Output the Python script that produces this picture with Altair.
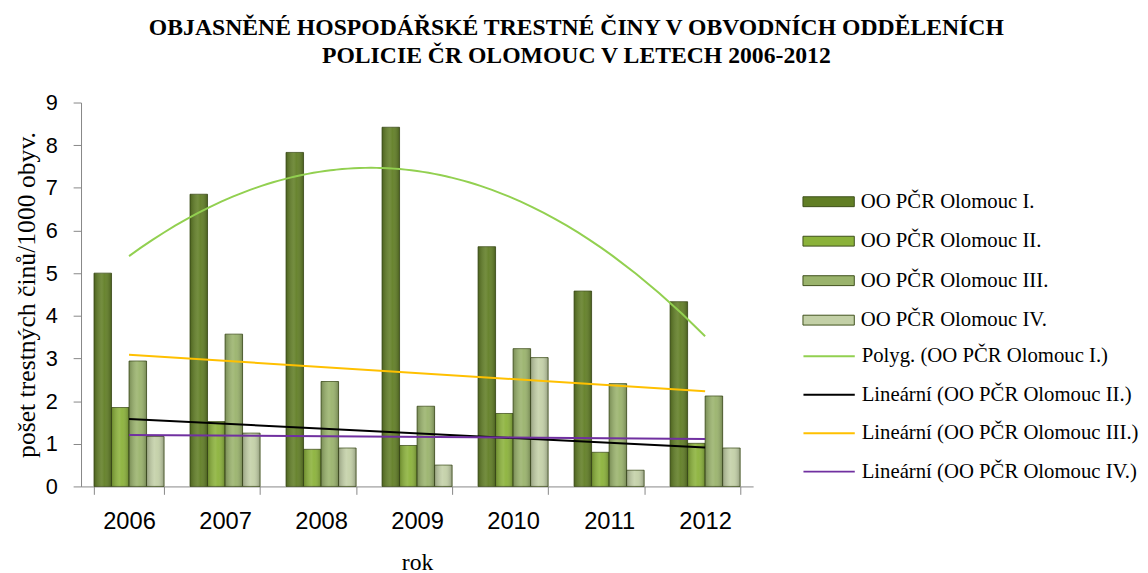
import altair as alt
import pandas as pd

years = [2006, 2007, 2008, 2009, 2010, 2011, 2012]
series_names = ["OO PČR Olomouc I.", "OO PČR Olomouc II.", "OO PČR Olomouc III.", "OO PČR Olomouc IV."]
vals_I = [5.00, 6.85, 7.83, 8.42, 5.62, 4.58, 4.33]
vals_II = [1.85, 1.52, 0.87, 0.96, 1.71, 0.80, 1.01]
vals_III = [2.94, 3.57, 2.46, 1.88, 3.23, 2.41, 2.12]
vals_IV = [1.17, 1.25, 0.90, 0.50, 3.02, 0.38, 0.90]
trend_names = ["Polyg. (OO PČR Olomouc I.)", "Lineární (OO PČR Olomouc II.)",
               "Lineární (OO PČR Olomouc III.)", "Lineární (OO PČR Olomouc IV.)"]
bar_colors = ["#617E25", "#8BB23A", "#9AB36C", "#C3D0A7"]
trend_colors = ["#92D050", "#000000", "#FFC000", "#7030A0"]
title_lines = ["OBJASNĚNÉ HOSPODÁŘSKÉ TRESTNÉ ČINY V OBVODNÍCH ODDĚLENÍCH",
               "POLICIE ČR OLOMOUC V LETECH 2006-2012"]
y_title = "pošet trestných činů/1000 obyv."
x_title = "rok"

rows = []
for name, vals in zip(series_names, [vals_I, vals_II, vals_III, vals_IV]):
    for yr, v in zip(years, vals):
        rows.append({"year": yr, "series": name, "value": v})
df = pd.DataFrame(rows)

SERIF = "Liberation Serif"
SANS = "Liberation Sans"
AXIS_COLOR = "#868686"

y_enc = alt.Y("value:Q", scale=alt.Scale(domain=[0, 9], nice=False),
              axis=alt.Axis(values=list(range(10)), title=y_title, grid=False,
                            domainColor=AXIS_COLOR, tickColor=AXIS_COLOR, tickSize=8,
                            labelFont=SANS, labelFontSize=22, labelColor="#000000",
                            labelPadding=16, titleFont=SERIF, titleFontSize=26,
                            titleFontWeight="normal", titleColor="#000000", titlePadding=6))

x_band = alt.X("year:O", scale=alt.Scale(paddingInner=0.27, paddingOuter=0.135),
               axis=alt.Axis(title=x_title, labelAngle=0, tickBand="extent", tickSize=8,
                             domainColor=AXIS_COLOR, tickColor=AXIS_COLOR,
                             labelFont=SANS, labelFontSize=24, labelColor="#000000",
                             labelPadding=16, titleFont=SERIF, titleFontSize=24,
                             titleFontWeight="normal", titleColor="#000000", titlePadding=17))
x_off = alt.XOffset("series:N", sort=series_names, scale=alt.Scale(paddingInner=0, paddingOuter=0))

fill_legend = alt.Legend(title=None, orient="none", legendX=721, legendY=90,
                         symbolType="M0,-0.5H5.2V0.5H0Z", symbolSize=400,
                         symbolStrokeColor="#3E4F1A", symbolStrokeWidth=1,
                         labelOffset=48, rowPadding=18, padding=0)
stroke_legend = alt.Legend(title=None, orient="none", legendX=721, legendY=246,
                           symbolType="M0,0H5.2", symbolSize=400, symbolStrokeWidth=2,
                           labelOffset=48, rowPadding=18, padding=0)

bars = alt.Chart(df).mark_bar(stroke="#3E4F1A", strokeWidth=0.8).encode(
    x=x_band, xOffset=x_off, y=y_enc,
    fill=alt.Fill("series:N", sort=series_names,
                  scale=alt.Scale(domain=series_names, range=bar_colors),
                  legend=fill_legend),
)

shade = alt.Chart(df).mark_bar(
    color=alt.LinearGradient(
        gradient="linear", x1=0, x2=1, y1=0, y2=0,
        stops=[alt.GradientStop(color="rgba(0,0,0,0.22)", offset=0),
               alt.GradientStop(color="rgba(255,255,255,0.12)", offset=0.45),
               alt.GradientStop(color="rgba(255,255,255,0.05)", offset=0.6),
               alt.GradientStop(color="rgba(0,0,0,0.25)", offset=1)])
).encode(x=x_band, xOffset=x_off, y="value:Q")

bar_layer = alt.layer(bars, shade)

x_line = alt.X("year:Q", scale=alt.Scale(domain=[2005.5, 2012.5], nice=False, zero=False), axis=None)
stroke_enc = alt.Stroke("trend:N", scale=alt.Scale(domain=trend_names, range=trend_colors),
                        sort=trend_names, legend=stroke_legend)

poly = alt.Chart(df).transform_filter(
    alt.datum.series == series_names[0]
).transform_regression(
    "year", "value", method="poly", order=2, groupby=["series"]
).transform_calculate(
    trend='"Polyg. (" + datum.series + ")"'
).mark_line(strokeWidth=2).encode(x=x_line, y="value:Q", stroke=stroke_enc)

lin = alt.Chart(df).transform_filter(
    alt.datum.series != series_names[0]
).transform_regression(
    "year", "value", method="linear", groupby=["series"]
).transform_calculate(
    trend='"Lineární (" + datum.series + ")"'
).mark_line(strokeWidth=2).encode(x=x_line, y="value:Q", stroke=stroke_enc)

line_layer = alt.layer(poly, lin)

chart = alt.layer(bar_layer, line_layer).resolve_scale(x="independent").properties(
    width=681, height=389,
    padding={"left": 5, "top": 5, "right": 1, "bottom": 0},
    title=alt.TitleParams(title_lines, font=SERIF, fontSize=24, fontWeight="bold",
                          color="#000000", anchor="middle", frame="bounds",
                          lineHeight=28, offset=24),
).configure_view(stroke=None).configure_legend(
    labelFont=SERIF, labelFontSize=21, labelColor="#000000", labelLimit=400
)

chart.save("out.html", embed_options={"renderer": "svg", "actions": False})
